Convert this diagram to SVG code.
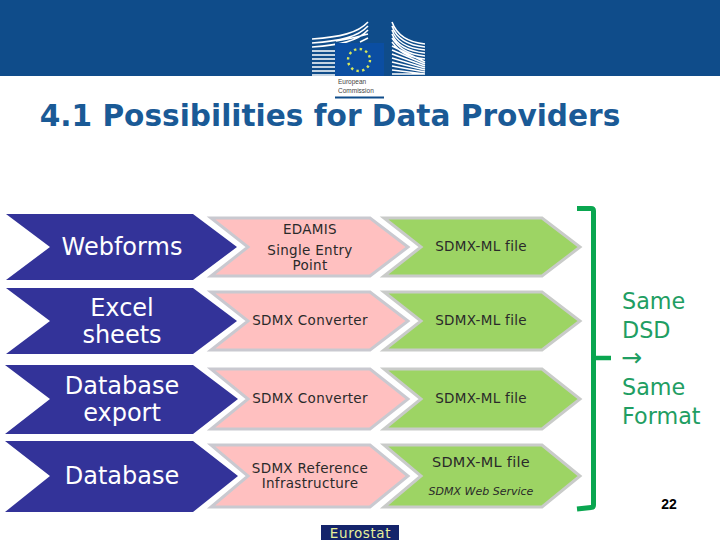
<svg xmlns="http://www.w3.org/2000/svg" width="720" height="540" viewBox="0 0 720 540">
<style>
text{font-family:"DejaVu Sans",Verdana,sans-serif;text-anchor:middle}
.n{fill:#333399}
.n2{fill:#fff;font-size:24px}
.p{fill:#ffc0c0;stroke:#c9c9d0;stroke-width:3}
.g{fill:#9dd464;stroke:#c9cbc9;stroke-width:3}
.t{fill:#2a2a2a;font-size:13.5px;letter-spacing:.3px}
.s{fill:#1f9e63;font-size:22.3px;text-anchor:start}
.l{fill:none;stroke:#fff;stroke-width:1.6}
</style>
<rect width="720" height="76" fill="#0f4c8a"/>
<g id="logo">
<path class="l" d="M312 39C340 37 358 33 368 22M312 43C340 41 358 37 368 26M312 47C340 45 358 41 368 30M312 51H335M312 55H335M312 59H335M312 63H335M312 67H335M312 71H335M312 75H335M336 41C350 39 360 36 368 34M360 42L368 38"/>
<path class="l" d="M392 22C396 33 405 42 425 44M392 26C396 37 405 45 425 47M392 30C396 41 405 48 425 50M392 34C396 44 405 51 425 53M392 38C398 47 406 54 425 56M392 42C398 50 406 57 425 59M392 46L425 62M392 50L425 64M392 54L425 66M392 58L425 68M392 62L425 70M392 66L425 72M392 70L425 74M392 74H425"/>
<rect x="335" y="43" width="49" height="33" fill="#0b4ea2"/>
<circle cx="359" cy="60" r="11" fill="none" stroke="#d8e85a" stroke-width="2.4" stroke-dasharray="2.4 3.4"/>
<text x="338" y="84" style="font-size:6.500px;text-anchor:start;font-family:'Liberation Sans',sans-serif" fill="#444">European</text>
<text x="338" y="93" style="font-size:6.500px;text-anchor:start;font-family:'Liberation Sans',sans-serif" fill="#444">Commission</text>
<rect x="335" y="96.500" width="49" height="2" fill="#0f4c8a"/>
</g>
<text id="title" x="330" y="126" style="font-size:29.600px;font-weight:700" fill="#1a5a96">4.1 Possibilities for Data Providers</text>
<g id="n1"><path class="n" d="M6 214H193L237 247L193 280H6L50 247Z"/><text class="n2" x="122" y="255">Webforms</text></g>
<g id="n2"><path class="n" d="M6 288H193L237 321L193 354H6L50 321Z"/><text class="n2" x="122" y="316">Excel</text><text class="n2" x="122" y="343">sheets</text></g>
<g id="n3"><path class="n" d="M5 365H193L238 399L193 434H5L50 399Z"/><text class="n2" x="122" y="394">Database</text><text class="n2" x="122" y="421">export</text></g>
<g id="n4"><path class="n" d="M5 441H193L238 476L193 512H5L50 476Z"/><text class="n2" x="122" y="484">Database</text></g>
<g id="p1"><path class="p" d="M211 218H370L408 247L370 276H211L248 247Z"/><text class="t" x="310" y="234">EDAMIS</text><text class="t" x="310" y="255">Single Entry</text><text class="t" x="310" y="270">Point</text></g>
<g id="p2"><path class="p" d="M211 292H370L408 321L370 350H211L248 321Z"/><text class="t" x="310" y="325">SDMX Converter</text></g>
<g id="p3"><path class="p" d="M211 369H370L408 399L370 429H211L248 399Z"/><text class="t" x="310" y="403">SDMX Converter</text></g>
<g id="p4"><path class="p" d="M211 445H370L408 476L370 507H211L248 476Z"/><text class="t" x="310" y="473">SDMX Reference</text><text class="t" x="310" y="488">Infrastructure</text></g>
<g id="g1"><path class="g" d="M384 218H542L580 247L542 276H384L421 247Z"/><text class="t" x="481" y="251">SDMX-ML file</text></g>
<g id="g2"><path class="g" d="M384 292H542L580 321L542 350H384L421 321Z"/><text class="t" x="481" y="325">SDMX-ML file</text></g>
<g id="g3"><path class="g" d="M384 369H542L580 399L542 429H384L421 399Z"/><text class="t" x="481" y="403">SDMX-ML file</text></g>
<g id="g4"><path class="g" d="M384 445H542L580 476L542 507H384L421 476Z"/><text class="t" x="481" y="467" style="font-size:14.500px">SDMX-ML file</text><text class="t" x="481" y="495" style="font-size:11px;font-style:italic;letter-spacing:0">SDMX Web Service</text></g>
<g id="connectors" fill="none" stroke="#0aa650" stroke-width="5">
<path d="M577 208.500H591Q593.500 208.500 593.500 211V505Q593.500 507.500 591 507.500L577 509"/>
<path d="M593 358H611" stroke-width="4.500"/>
</g>
<g id="side"><text class="s" x="622" y="309">Same</text><text class="s" x="622" y="338">DSD</text>
<text class="s" x="621" y="366" style="font-size:25px">→</text>
<text class="s" x="622" y="395">Same</text><text class="s" x="622" y="424">Format</text></g>
<text id="page" x="669" y="509" style="font-size:14px;font-weight:700;font-family:'Liberation Sans',sans-serif" fill="#000">22</text>
<g id="footer"><rect x="321" y="525" width="78" height="15" fill="#14246b"/><text x="360.500" y="538" style="font-size:13.500px;letter-spacing:.6px" fill="#e8f09a">Eurostat</text></g>
</svg>
